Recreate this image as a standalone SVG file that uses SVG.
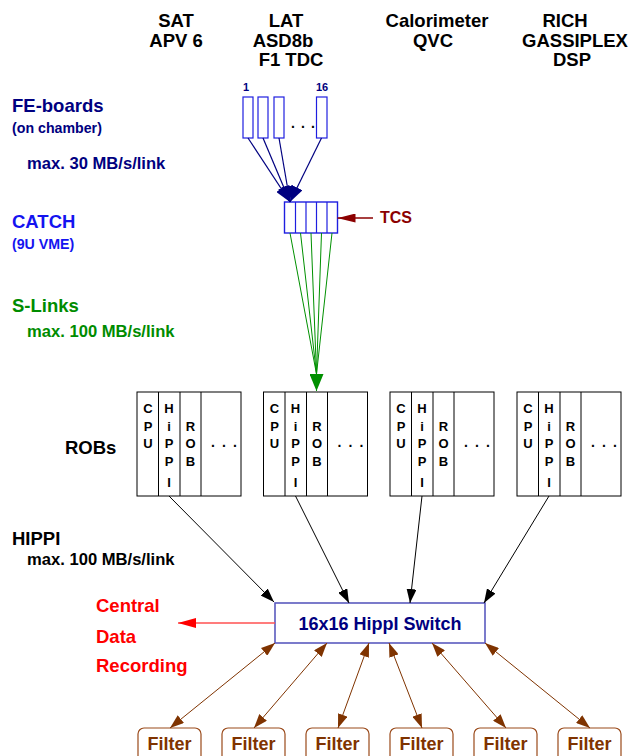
<svg xmlns="http://www.w3.org/2000/svg" width="631" height="756" viewBox="0 0 631 756">
<defs>
<style>
text{font-family:"Liberation Sans",Arial,sans-serif;font-weight:bold}
.hdr{font-size:18.5px;fill:#000;text-anchor:middle}
.big{font-size:18.5px}
.sub{font-size:14.2px}
.rate{font-size:16.6px}
.navy{fill:#000080}
.blue{fill:#1414F0}
.green{fill:#008C00}
.rob{fill:none;stroke:#000;stroke-width:1}
.let{font-size:13px;fill:#000;text-anchor:middle}
.dots{font-size:14px;fill:#000;letter-spacing:7.1px}
.fe{fill:#fff;stroke:#1E1EE0;stroke-width:1.2}
.filter{fill:#fff;stroke:#9A4A1A;stroke-width:1.2}
.ftxt{font-size:18px;fill:#7F3300;text-anchor:middle}
</style>
<marker id="mNavy" markerUnits="userSpaceOnUse" markerWidth="16" markerHeight="12" refX="16" refY="6" orient="auto"><path d="M0,0 L16,6 L0,12 z" fill="#000080"/></marker>
<marker id="mGreen" markerUnits="userSpaceOnUse" markerWidth="17" markerHeight="14" refX="17" refY="7" orient="auto"><path d="M0,0 L17,7 L0,14 z" fill="#009000"/></marker>
<marker id="mBlack" markerUnits="userSpaceOnUse" markerWidth="14" markerHeight="10" refX="14" refY="5" orient="auto"><path d="M0,0 L14,5 L0,10 z" fill="#000"/></marker>
<marker id="mBrown" markerUnits="userSpaceOnUse" markerWidth="14" markerHeight="10" refX="14" refY="5" orient="auto-start-reverse"><path d="M0,0 L14,5 L0,10 z" fill="#7F3300"/></marker>
<marker id="mRed" markerUnits="userSpaceOnUse" markerWidth="18" markerHeight="10" refX="18" refY="5" orient="auto"><path d="M0,0 L18,5 L0,10 z" fill="#FF0000"/></marker>
<marker id="mDRed" markerUnits="userSpaceOnUse" markerWidth="18" markerHeight="9" refX="18" refY="4.5" orient="auto"><path d="M0,0 L18,4.5 L0,9 z" fill="#8B0000"/></marker>
</defs>
<rect width="631" height="756" fill="#fff"/>

<g id="headers">
<text class="hdr" x="176" y="27">SAT</text>
<text class="hdr" x="176" y="47">APV 6</text>
<text class="hdr" x="286" y="27">LAT</text>
<text class="hdr" x="283" y="47">ASD8b</text>
<text class="hdr" x="291" y="66">F1 TDC</text>
<text class="hdr" x="437" y="27">Calorimeter</text>
<text class="hdr" x="433" y="47">QVC</text>
<text class="hdr" x="565" y="27">RICH</text>
<text class="hdr" x="575" y="47">GASSIPLEX</text>
<text class="hdr" x="572" y="66">DSP</text>
</g>

<g id="labels">
<text class="big navy" x="12" y="112">FE-boards</text>
<text class="sub navy" x="12" y="133">(on chamber)</text>
<text class="rate navy" x="27" y="169">max. 30 MB/s/link</text>
<text class="big blue" x="12" y="228">CATCH</text>
<text class="sub blue" x="12" y="249">(9U VME)</text>
<text class="big green" x="12" y="312">S-Links</text>
<text class="rate green" x="27" y="337">max. 100 MB/s/link</text>
<text class="big" x="65" y="454" fill="#000">ROBs</text>
<text class="big" x="12" y="545" fill="#000">HIPPI</text>
<text class="rate" x="27" y="565" fill="#000">max. 100 MB/s/link</text>
</g>

<g id="fe-boards">
<text x="243" y="91" font-size="11" fill="#000080">1</text>
<text x="316" y="91" font-size="11" fill="#000080">16</text>
<rect class="fe" x="243" y="97" width="10" height="41"/>
<rect class="fe" x="258" y="97" width="10" height="41"/>
<rect class="fe" x="274" y="97" width="10" height="41"/>
<rect class="fe" x="316.5" y="97" width="10.5" height="41"/>
<text x="291" y="128" font-size="14" fill="#000" letter-spacing="6.1">...</text>
</g>

<g id="catch">
<rect x="284.5" y="202" width="53" height="31" fill="#fff" stroke="#1E1EE0" stroke-width="1.4"/>
<path d="M295.5,202V233M306,202V233M316.5,202V233M327,202V233" stroke="#1E1EE0" stroke-width="1.2" fill="none"/>
</g>

<g id="tcs">
<text x="380" y="223" font-size="16" fill="#8B0000">TCS</text>
</g>

<g id="rob1">
<rect class="rob" x="137" y="392" width="104" height="104"/>
<path class="rob" d="M158.5,392V496M180,392V496M201,392V496"/>
<text class="let" x="148" y="413">C</text><text class="let" x="148" y="431">P</text><text class="let" x="148" y="448">U</text>
<text class="let" x="169" y="413">H</text><text class="let" x="169" y="431">i</text><text class="let" x="169" y="448">P</text><text class="let" x="169" y="466">P</text><text class="let" x="169" y="487">I</text>
<text class="let" x="190.5" y="431">R</text><text class="let" x="190.5" y="448">O</text><text class="let" x="190.5" y="466">B</text>
<text class="dots" x="211" y="447">...</text>
</g>
<g id="rob2">
<rect class="rob" x="263.5" y="392" width="104" height="104"/>
<path class="rob" d="M285,392V496M306.5,392V496M327.5,392V496"/>
<text class="let" x="274.5" y="413">C</text><text class="let" x="274.5" y="431">P</text><text class="let" x="274.5" y="448">U</text>
<text class="let" x="295.5" y="413">H</text><text class="let" x="295.5" y="431">i</text><text class="let" x="295.5" y="448">P</text><text class="let" x="295.5" y="466">P</text><text class="let" x="295.5" y="487">I</text>
<text class="let" x="317" y="431">R</text><text class="let" x="317" y="448">O</text><text class="let" x="317" y="466">B</text>
<text class="dots" x="337.5" y="447">...</text>
</g>
<g id="rob3">
<rect class="rob" x="390" y="392" width="104" height="104"/>
<path class="rob" d="M411.5,392V496M433,392V496M454,392V496"/>
<text class="let" x="401" y="413">C</text><text class="let" x="401" y="431">P</text><text class="let" x="401" y="448">U</text>
<text class="let" x="422" y="413">H</text><text class="let" x="422" y="431">i</text><text class="let" x="422" y="448">P</text><text class="let" x="422" y="466">P</text><text class="let" x="422" y="487">I</text>
<text class="let" x="443.5" y="431">R</text><text class="let" x="443.5" y="448">O</text><text class="let" x="443.5" y="466">B</text>
<text class="dots" x="464" y="447">...</text>
</g>
<g id="rob4">
<rect class="rob" x="517" y="392" width="104" height="104"/>
<path class="rob" d="M538.5,392V496M560,392V496M581,392V496"/>
<text class="let" x="528" y="413">C</text><text class="let" x="528" y="431">P</text><text class="let" x="528" y="448">U</text>
<text class="let" x="549" y="413">H</text><text class="let" x="549" y="431">i</text><text class="let" x="549" y="448">P</text><text class="let" x="549" y="466">P</text><text class="let" x="549" y="487">I</text>
<text class="let" x="570.5" y="431">R</text><text class="let" x="570.5" y="448">O</text><text class="let" x="570.5" y="466">B</text>
<text class="dots" x="591" y="447">...</text>
</g>

<g id="switch">
<rect x="275" y="603" width="210" height="40" fill="#fff" stroke="#5A5ABE" stroke-width="1.6"/>
<text x="380" y="630" font-size="18" fill="#000080" text-anchor="middle">16x16 HippI Switch</text>
</g>

<g id="cdr">
<text class="big" x="96" y="612" fill="#FF0000">Central</text>
<text class="big" x="96" y="643" fill="#FF0000">Data</text>
<text class="big" x="96" y="672" fill="#FF0000">Recording</text>
</g>

<g id="filters">
<g id="filter1"><rect class="filter" x="138" y="728" width="63" height="36" rx="6"/><text class="ftxt" x="169.5" y="750">Filter</text></g>
<g id="filter2"><rect class="filter" x="222" y="728" width="63" height="36" rx="6"/><text class="ftxt" x="253.5" y="750">Filter</text></g>
<g id="filter3"><rect class="filter" x="306" y="728" width="63" height="36" rx="6"/><text class="ftxt" x="337.5" y="750">Filter</text></g>
<g id="filter4"><rect class="filter" x="390" y="728" width="63" height="36" rx="6"/><text class="ftxt" x="421.5" y="750">Filter</text></g>
<g id="filter5"><rect class="filter" x="474" y="728" width="63" height="36" rx="6"/><text class="ftxt" x="505.5" y="750">Filter</text></g>
<g id="filter6"><rect class="filter" x="558" y="728" width="63" height="36" rx="6"/><text class="ftxt" x="589.5" y="750">Filter</text></g>
</g>

<g id="connectors" fill="none">
<g stroke="#000080" stroke-width="1.2" marker-end="url(#mNavy)">
<line x1="248" y1="138" x2="290" y2="202"/>
<line x1="263" y1="138" x2="290" y2="202"/>
<line x1="279" y1="138" x2="290" y2="202"/>
<line x1="321.5" y1="138" x2="290" y2="202"/>
</g>
<line x1="373" y1="218" x2="337.5" y2="218" stroke="#8B0000" stroke-width="1.6" marker-end="url(#mDRed)"/>
<g stroke="#009000" stroke-width="1">
<line x1="290" y1="233" x2="316.5" y2="374"/>
<line x1="300.5" y1="233" x2="316.5" y2="374"/>
<line x1="311" y1="233" x2="316.5" y2="374"/>
<line x1="321.5" y1="233" x2="316.5" y2="374"/>
<line x1="332" y1="233" x2="316.5" y2="374"/>
<line x1="316.5" y1="370" x2="316.5" y2="391" marker-end="url(#mGreen)"/>
</g>
<g stroke="#000" stroke-width="1" marker-end="url(#mBlack)">
<line x1="169" y1="496" x2="274" y2="602"/>
<line x1="295.5" y1="496" x2="349" y2="603"/>
<line x1="422" y1="496" x2="410" y2="603"/>
<line x1="549" y1="496" x2="484" y2="603"/>
</g>
<line x1="275" y1="623" x2="178" y2="623" stroke="#FF5050" stroke-width="1.6" marker-end="url(#mRed)"/>
<g stroke="#7F3300" stroke-width="1" marker-start="url(#mBrown)" marker-end="url(#mBrown)">
<line x1="275" y1="643" x2="170" y2="728"/>
<line x1="327" y1="643" x2="254" y2="728"/>
<line x1="369" y1="643" x2="338" y2="728"/>
<line x1="389" y1="643" x2="422" y2="728"/>
<line x1="432" y1="643" x2="506" y2="728"/>
<line x1="485" y1="643" x2="590" y2="728"/>
</g>
</g>
</svg>
